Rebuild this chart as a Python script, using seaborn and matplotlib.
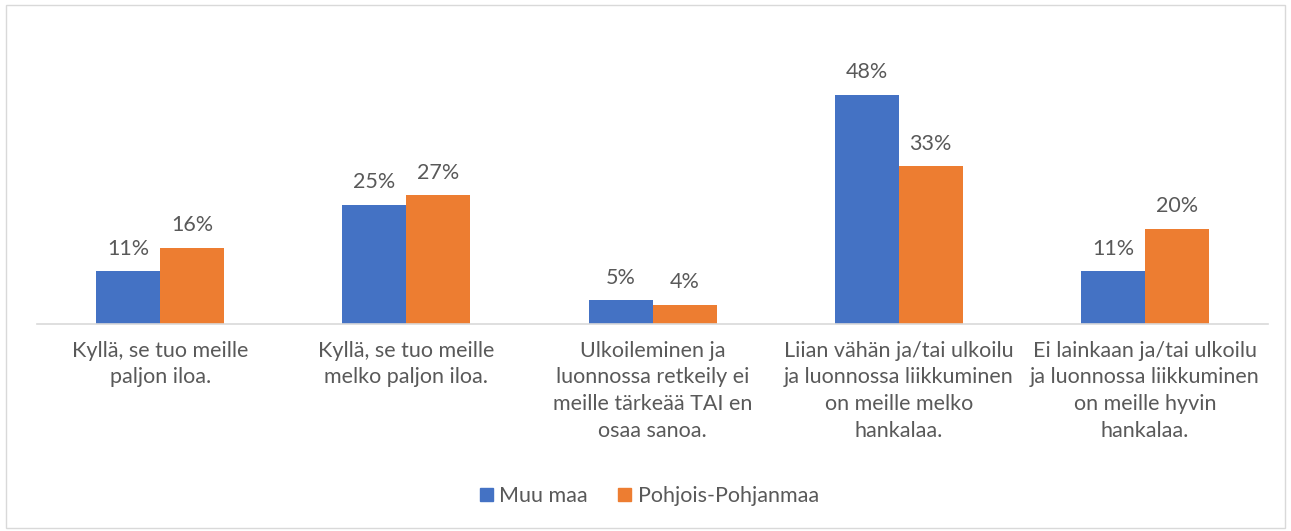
import numpy as np
import pandas as pd
import matplotlib
matplotlib.use("Agg")
import matplotlib.pyplot as plt
import seaborn as sns
from matplotlib.patches import Rectangle

# Chart data
categories = [
    "Kyllä, se tuo meille\npaljon iloa.",
    "Kyllä, se tuo meille\nmelko paljon iloa.",
    "Ulkoileminen ja\nluonnossa retkeily ei\nmeille tärkeää TAI en\nosaa sanoa.",
    "Liian vähän ja/tai ulkoilu\nja luonnossa liikkuminen\non meille melko\nhankalaa.",
    "Ei lainkaan ja/tai ulkoilu\nja luonnossa liikkuminen\non meille hyvin\nhankalaa.",
]
series_names = ["Muu maa", "Pohjois-Pohjanmaa"]
muu_maa = [11, 25, 5, 48, 11]
pohjois_pohjanmaa = [16, 27, 4, 33, 20]
colors = ["#4472C4", "#ED7D31"]

df = pd.DataFrame({
    "category": categories * 2,
    "series": [series_names[0]] * 5 + [series_names[1]] * 5,
    "value": muu_maa + pohjois_pohjanmaa,
})

sns.set_style("white")
plt.rcParams["font.family"] = ["Lato", "DejaVu Sans"]
text_color = "#595959"
fs = 15.5

fig = plt.figure(figsize=(12.91, 5.31), dpi=100)
ax = fig.add_axes([0.0287, 0.39, 0.9535, 0.539])

sns.barplot(data=df, x="category", y="value", hue="series", palette=colors,
            width=0.52, saturation=1, linewidth=0, ax=ax, legend=False)

for container in ax.containers:
    ax.bar_label(container, labels=[f"{v:.0f}%" for v in container.datavalues],
                 padding=9, fontsize=fs, color=text_color)

ax.set_ylim(0, 60)
ax.set_xlim(-0.5, 4.5)
ax.set_yticks([])
ax.set_xlabel("")
ax.set_ylabel("")
for side in ["top", "right", "left"]:
    ax.spines[side].set_visible(False)
ax.spines["bottom"].set_color("#d9d9d9")
ax.spines["bottom"].set_linewidth(1.2)
ax.tick_params(axis="x", length=0, pad=12, labelsize=fs, labelcolor=text_color)
for lbl in ax.get_xticklabels():
    lbl.set_linespacing(1.43)
    lbl.set_verticalalignment("top")

# legend
handles = [Rectangle((0, 0), 1, 1, color=c) for c in colors]
fig.legend(handles, series_names, loc="center", bbox_to_anchor=(0.503, 0.066),
           ncol=2, frameon=False, fontsize=fs, labelcolor=text_color,
           handlelength=0.6, handleheight=0.6, handletextpad=0.3, columnspacing=1.4)

# outer frame
fig.patches.append(Rectangle((0.005, 0.006), 0.99, 0.985, transform=fig.transFigure,
                             fill=False, edgecolor="#d9d9d9", linewidth=1))

fig.savefig("out.png", dpi=100)
